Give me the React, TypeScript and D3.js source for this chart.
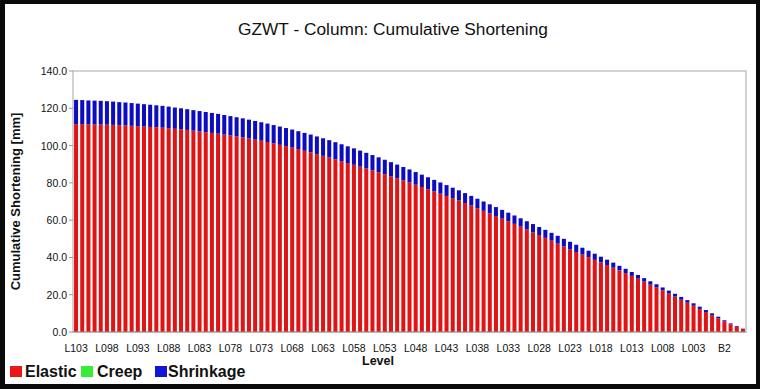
import * as d3 from 'd3';

// levels from top of tower down to basement
const levels: string[] = [
  ...d3.range(103, 0, -1).map(n => 'L' + String(n).padStart(3, '0')),
  'G', 'B1', 'B2', 'B3', 'B4', 'B5',
];

const elastic = [
  111.5, 111.5, 111.4, 111.3, 111.3, 111.2, 111.1, 110.9, 110.8, 110.6,
  110.4, 110.2, 110.0, 109.8, 109.6, 109.3, 109.0, 108.7, 108.4, 108.0,
  107.6, 107.2, 106.8, 106.4, 105.9, 105.4, 104.9, 104.4, 103.8, 103.2,
  102.6, 101.9, 101.2, 100.4, 99.7, 98.9, 98.1, 97.2, 96.4, 95.4,
  94.5, 93.6, 92.6, 91.6, 90.6, 89.7, 88.7, 87.7, 86.7, 85.7,
  84.6, 83.5, 82.4, 81.3, 80.2, 79.0, 77.8, 76.6, 75.4, 74.2,
  73.0, 71.8, 70.6, 69.2, 67.8, 66.4, 65.0, 63.6, 62.2, 60.8,
  59.4, 58.0, 56.5, 55.0, 53.5, 52.0, 50.5, 49.0, 47.4, 45.9,
  44.4, 42.9, 41.5, 40.1, 38.7, 37.3, 35.9, 34.5, 33.0, 31.6,
  30.1, 28.6, 27.0, 25.4, 23.9, 22.3, 20.6, 19.0, 17.3, 15.7,
  14.1, 12.4, 10.7, 9.0, 7.4, 5.7, 4.1, 2.8, 1.6,
];

const shrinkage = [
  13.0, 12.9, 12.8, 12.8, 12.7, 12.6, 12.5, 12.4, 12.3, 12.2,
  12.1, 12.0, 11.9, 11.8, 11.7, 11.6, 11.4, 11.3, 11.1, 11.0,
  10.9, 10.8, 10.7, 10.6, 10.5, 10.4, 10.3, 10.2, 10.1, 10.0,
  9.9, 9.9, 9.8, 9.8, 9.7, 9.7, 9.6, 9.6, 9.5, 9.5,
  9.4, 9.3, 9.2, 9.1, 9.0, 8.8, 8.6, 8.4, 8.2, 8.0,
  7.8, 7.6, 7.4, 7.2, 7.0, 6.8, 6.6, 6.4, 6.2, 6.0,
  5.8, 5.6, 5.4, 5.3, 5.2, 5.1, 5.0, 4.9, 4.8, 4.7,
  4.6, 4.5, 4.5, 4.4, 4.4, 4.3, 4.3, 4.2, 4.2, 4.1,
  4.0, 3.9, 3.7, 3.5, 3.3, 3.1, 2.9, 2.7, 2.5, 2.3,
  2.1, 2.0, 1.9, 1.8, 1.7, 1.6, 1.6, 1.5, 1.5, 1.4,
  1.3, 1.2, 1.1, 1.0, 0.8, 0.6, 0.5, 0.4, 0.2,
];

// creep is zero everywhere on this chart
const creep = levels.map(() => 0);

const xTickLabels = [
  'L103', 'L098', 'L093', 'L088', 'L083', 'L078', 'L073', 'L068', 'L063', 'L058', 'L053',
  'L048', 'L043', 'L038', 'L033', 'L028', 'L023', 'L018', 'L013', 'L008', 'L003', 'B2',
];
const yTicks = [0, 20, 40, 60, 80, 100, 120, 140];

const seriesKeys = ['Elastic', 'Creep', 'Shrinkage'];
const colors: Record<string, string> = { Elastic: '#e01414', Creep: '#2ee82e', Shrinkage: '#0c0cc0' };
const legendColors: Record<string, string> = { Elastic: '#e81818', Creep: '#33ee33', Shrinkage: '#1414d8' };

const W = 760, H = 389;
const plot = { left: 73, right: 746, top: 71, bottom: 332 };
const font = 'Arial, "Liberation Sans", sans-serif';

export default function App() {
  const rows = levels.map((lv, i) => ({
    level: lv, Elastic: elastic[i], Creep: creep[i], Shrinkage: shrinkage[i],
  }));

  const x = d3.scaleBand<string>()
    .domain(levels)
    .range([plot.left, plot.right])
    .paddingInner(0.35)
    .paddingOuter(0.17);

  const y = d3.scaleLinear().domain([0, 140]).range([plot.bottom, plot.top]);

  const stacked = d3.stack<any>().keys(seriesKeys)(rows);

  const legendItems = [
    { key: 'Elastic', sx: 10, tx: 25 },
    { key: 'Creep', sx: 81, tx: 97 },
    { key: 'Shrinkage', sx: 155, tx: 168 },
  ];

  return (
    <div style={{ position: 'absolute', left: 0, top: 0 }}>
      <svg width={W} height={H} style={{ display: 'block' }}>
        <rect x={0} y={0} width={W} height={H} fill="#0a0a0a" />
        <rect x={5} y={4} width={751} height={380} fill="#ffffff" />

        <text x={393} y={35} textAnchor="middle" fontFamily={font} fontSize={17.3} fill="#111">
          GZWT - Column: Cumulative Shortening
        </text>

        <rect x={plot.left} y={plot.top} width={plot.right - plot.left} height={plot.bottom - plot.top}
          fill="none" stroke="#c4c4c4" strokeWidth={1.5} />

        {stacked.map(s => (
          <g key={s.key} fill={colors[s.key]}>
            {s.map((d, i) => {
              const h = y(d[0]) - y(d[1]);
              if (h <= 0) return null;
              return <rect key={i} x={x(levels[i])} y={y(d[1])} width={x.bandwidth()} height={h} />;
            })}
          </g>
        ))}

        {yTicks.map(t => (
          <g key={t}>
            <line x1={plot.left - 4} x2={plot.left} y1={y(t)} y2={y(t)} stroke="#9a9a9a" />
            <text x={plot.left - 6} y={y(t) + 4} textAnchor="end" fontFamily={font} fontSize={10.5} fill="#111">
              {t.toFixed(1)}
            </text>
          </g>
        ))}
        <line x1={plot.left} x2={plot.right} y1={plot.bottom} y2={plot.bottom} stroke="#9a9a9a" />

        {xTickLabels.map(l => (
          <text key={l} x={(x(l) ?? 0) + x.bandwidth() / 2} y={352} textAnchor="middle"
            fontFamily={font} fontSize={10.5} fill="#111">
            {l}
          </text>
        ))}

        <text transform={`translate(20,${(plot.top + plot.bottom) / 2}) rotate(-90)`} textAnchor="middle"
          fontFamily={font} fontSize={13} fontWeight="bold" fill="#111">
          Cumulative Shortening [mm]
        </text>
        <text x={378} y={365} textAnchor="middle" fontFamily={font} fontSize={12.5} fontWeight="bold" fill="#111">
          Level
        </text>

        {legendItems.map(it => (
          <g key={it.key}>
            <rect x={it.sx} y={366} width={12} height={11} fill={legendColors[it.key]} />
            <text x={it.tx} y={377} fontFamily={font} fontSize={16} fontWeight="bold" fill="#111">
              {it.key}
            </text>
          </g>
        ))}
      </svg>
    </div>
  );
}
